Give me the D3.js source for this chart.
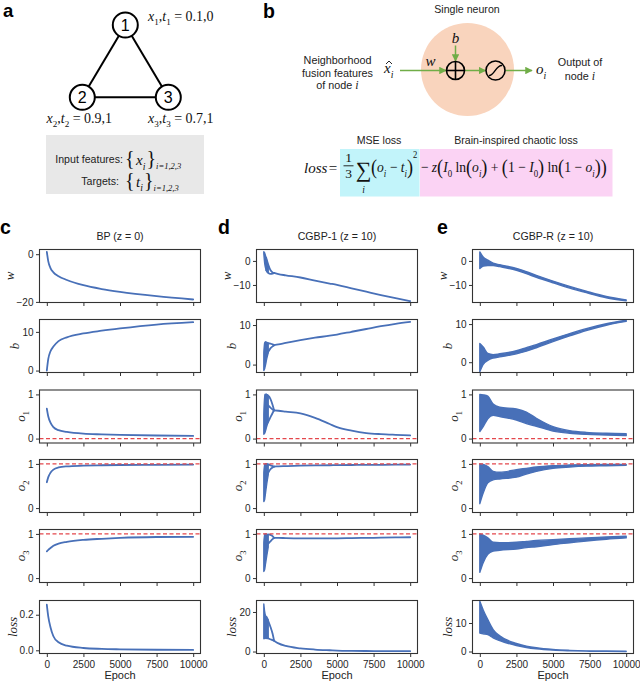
<!DOCTYPE html>
<html><head><meta charset="utf-8">
<script src="https://cdn.jsdelivr.net/npm/d3@7"></script>
<style>body{margin:0;background:#fff} svg{display:block} text{white-space:pre}</style>
</head><body>
<svg id="fig" width="640" height="683"></svg>
<script>
// ---------------- DATA ----------------
// panel a graph
const nodeLabels = ['1', '2', '3'];
const nodeFeatures = ['0.1', '0.9', '0.7'];
const nodeTargets = ['0', '1', '1'];
const graphEdges = [[0, 1], [0, 2], [1, 2]];

// x axis
const xTicks = [0, 2500, 5000, 7500, 10000];
const rowNames = ['w', 'b', 'o1', 'o2', 'o3', 'loss'];
const targetLines = [null, null, 0, 1, 1, null];

// c: BP (z = 0)
const epochBP = [0, 100, 250, 450, 800, 1370, 2500, 3750, 5000, 7500, 10000];
const bpW = [1.0, -3.0, -5.8, -7.6, -9.2, -10.8, -13.0, -14.6, -15.8, -17.6, -19.0];
const bpB = [0.0, 3.0, 5.0, 6.2, 7.6, 8.6, 9.6, 10.3, 10.9, 11.9, 12.5];
const bpO1 = [0.68, 0.50, 0.36, 0.26, 0.19, 0.15, 0.11, 0.095, 0.085, 0.07, 0.06];
const bpO2 = [0.585, 0.70, 0.80, 0.87, 0.92, 0.945, 0.96, 0.97, 0.975, 0.98, 0.985];
const bpO3 = [0.605, 0.64, 0.68, 0.73, 0.78, 0.82, 0.865, 0.89, 0.91, 0.93, 0.935];
const bpLoss = [0.256, 0.19, 0.13, 0.079, 0.045, 0.026, 0.013, 0.008, 0.0056, 0.003, 0.002];
const yDomC = [[-20.25, 1.97], [-0.5, 13.2], [-0.1, 1.1], [-0.1, 1.1], [-0.1, 1.1], [-0.018, 0.28]];
const yTicksC = [[-20, 0], [0, 10], [0, 1], [0, 1], [0, 1], [0, 0.2]];

// d: CGBP-1 (z = 10) main trajectory after the chaotic phase
const epochD1 = [700, 1000, 1500, 2500, 3500, 4500, 5000, 6000, 7000, 8000, 9000, 10000];
const d1W = [-5.0, -5.5, -6.0, -6.9, -8.2, -9.4, -10.0, -11.4, -12.8, -14.2, -15.5, -16.7];
const d1B = [4.9, 5.1, 5.5, 6.2, 6.8, 7.3, 7.6, 8.3, 9.0, 9.7, 10.3, 10.8];
const d1O1 = [0.64, 0.63, 0.61, 0.57, 0.47, 0.33, 0.26, 0.18, 0.125, 0.10, 0.085, 0.073];
const d1O2 = [0.94, 0.945, 0.95, 0.96, 0.965, 0.97, 0.972, 0.975, 0.978, 0.98, 0.983, 0.985];
const d1O3 = [0.91, 0.91, 0.905, 0.9, 0.9, 0.9, 0.9, 0.905, 0.91, 0.915, 0.92, 0.925];
const d1Loss = [5.5, 4.1, 2.8, 1.6, 1.0, 0.65, 0.5, 0.35, 0.27, 0.22, 0.19, 0.17];
// d chaotic phase envelope
const epochD1Chaos = [0, 60, 120, 200, 300];
const d1WLo = [3.0, -1.0, -3.0, -4.3, -5.0];
const d1WHi = [3.8, 3.3, 2.0, 0.0, -2.5];
const d1BLo = [-1.5, -1.0, 0.0, 1.5, 3.0];
const d1BHi = [3.0, 5.5, 5.8, 5.6, 5.4];
const d1O1Lo = [0.1, 0.12, 0.18, 0.28, 0.38];
const d1O1Hi = [0.55, 1.0, 1.0, 1.0, 0.97];
const d1O2Lo = [0.15, 0.2, 0.35, 0.55, 0.75];
const d1O2Hi = [0.8, 1.0, 1.0, 1.0, 0.99];
const d1O3Lo = [0.15, 0.2, 0.33, 0.5, 0.7];
const d1O3Hi = [0.8, 1.0, 1.0, 0.99, 0.97];
const d1LossLo = [6.5, 6.6, 6.8, 6.9, 6.8];
const d1LossHi = [24, 20, 18, 17.5, 16];
// d loop branches leaving the chaotic phase
const epochD1Loop = [150, 300, 450, 600, 700];
const d1WLoopA = [1.5, -1.5, -3.8, -4.8, -5.0];
const d1WLoopB = [-3.8, -5.0, -5.4, -5.3, -5.0];
const d1BLoopA = [5.3, 5.4, 5.3, 5.1, 4.9];
const d1BLoopB = [2.0, 3.2, 4.1, 4.6, 4.9];
const d1O1LoopA = [1.0, 0.97, 0.9, 0.76, 0.64];
const d1O1LoopB = [0.3, 0.38, 0.48, 0.58, 0.64];
const d1O1LoopC = [0.8, 0.75, 0.7, 0.66, 0.64];
const d1O2LoopA = [1.0, 0.99, 0.97, 0.95, 0.94];
const d1O2LoopB = [0.7, 0.8, 0.88, 0.92, 0.94];
const d1O3LoopA = [0.97, 0.99, 0.98, 0.95, 0.91];
const d1O3LoopB = [0.75, 0.78, 0.83, 0.88, 0.91];
const d1LossLoopA = [17, 15.5, 12.5, 9, 5.5];
const d1LossLoopB = [6.8, 6.6, 6.2, 5.8, 5.5];
const yDomD = [[-17.3, 4.75], [-2.0, 11.4], [-0.1, 1.1], [-0.1, 1.1], [-0.1, 1.1], [-1.0, 25.8]];
const yTicksD = [[-10, 0], [0, 10], [0, 1], [0, 1], [0, 1], [0, 20]];

// e: CGBP-R (z = 10) envelope of the noisy trajectory
const epochE = [0, 230, 545, 910, 1360, 2500, 3180, 3860, 5000, 6140, 7270, 8640, 10000];
const eWLo = [-3.2, -2.2, -1.9, -1.9, -2.4, -3.9, -5.3, -6.8, -9.1, -11.3, -13.2, -15.3, -16.6];
const eWHi = [3.75, 1.6, 0.3, -0.9, -1.6, -3.1, -4.5, -6.0, -8.4, -10.6, -12.6, -14.8, -16.2];
const eBLo = [-2.5, -0.6, 0.5, 1.1, 1.4, 2.2, 2.9, 3.8, 5.4, 6.9, 8.3, 9.7, 10.7];
const eBHi = [4.9, 4.0, 2.3, 2.0, 2.2, 3.0, 3.8, 4.6, 6.1, 7.5, 8.8, 10.1, 11.0];
const eO1Lo = [0.16, 0.27, 0.45, 0.53, 0.5, 0.42, 0.34, 0.28, 0.17, 0.12, 0.095, 0.08, 0.066];
const eO1Hi = [1.0, 0.99, 0.96, 0.78, 0.71, 0.67, 0.6, 0.46, 0.27, 0.18, 0.14, 0.12, 0.11];
const eO2Lo = [0.1, 0.34, 0.57, 0.64, 0.66, 0.70, 0.77, 0.83, 0.90, 0.93, 0.95, 0.96, 0.97];
const eO2Hi = [1.0, 0.99, 0.94, 0.83, 0.81, 0.87, 0.9, 0.93, 0.96, 0.975, 0.985, 0.99, 0.99];
const eO3Lo = [0.13, 0.35, 0.54, 0.61, 0.63, 0.66, 0.69, 0.71, 0.76, 0.8, 0.84, 0.88, 0.91];
const eO3Hi = [1.0, 0.97, 0.91, 0.81, 0.8, 0.81, 0.83, 0.85, 0.87, 0.89, 0.91, 0.93, 0.95];
const eLossLo = [6.5, 6.2, 5.9, 4.8, 3.8, 2.1, 1.4, 0.93, 0.47, 0.25, 0.12, 0.05, 0.0];
const eLossHi = [17.6, 14.6, 11.2, 7.7, 5.5, 2.8, 1.9, 1.3, 0.7, 0.4, 0.23, 0.16, 0.12];
const yDomE = [[-17.3, 4.75], [-2.7, 11.2], [-0.1, 1.1], [-0.1, 1.1], [-0.1, 1.1], [-0.7, 17.9]];
const yTicksE = [[-10, 0], [0, 10], [0, 1], [0, 1], [0, 1], [0, 10]];

// ---------------- DRAWING ----------------
const svg = d3.select('#fig');
const SANS = 'Liberation Sans, Arial, sans-serif';
const SERIF = 'Liberation Serif, Times New Roman, serif';
const BLUE = '#4870b8';
const GREEN = '#70ad47';
const INK = '#111';

function rich(parent, x, y, segs, base, family, anchor) {
  const t = parent.append('text').attr('x', x).attr('y', y)
    .attr('font-family', family).attr('font-size', base).attr('fill', INK);
  if (anchor) t.attr('text-anchor', anchor);
  let cur = 0;
  for (const s of segs) {
    const off = s.off !== undefined ? s.off : (s.sub ? base * 0.3 : s.sup ? -base * 0.45 : 0);
    const sp = t.append('tspan').attr('dy', off - cur).text(s.t);
    cur = off;
    if (s.i) sp.attr('font-style', 'italic');
    if (s.f) sp.attr('font-family', s.f);
    const sz = s.size || ((s.sub || s.sup) ? base * 0.65 : null);
    if (sz) sp.attr('font-size', sz);
    if (s.dx) sp.attr('dx', s.dx);
  }
  return t;
}
function letter(x, y, s, size) {
  svg.append('text').attr('x', x).attr('y', y).attr('font-family', SANS)
    .attr('font-weight', 'bold').attr('font-size', size || 19.5).attr('fill', '#000').text(s);
}

// ===== panel a =====
letter(3, 17, 'a', 18.5);
const nodePos = [[125.3, 25], [82.3, 97.3], [168.3, 97.3]];
const ga = svg.append('g');
graphEdges.forEach(([i, j]) => {
  ga.append('line').attr('x1', nodePos[i][0]).attr('y1', nodePos[i][1])
    .attr('x2', nodePos[j][0]).attr('y2', nodePos[j][1])
    .attr('stroke', '#000').attr('stroke-width', 2);
});
nodeLabels.forEach((n, i) => {
  ga.append('circle').attr('cx', nodePos[i][0]).attr('cy', nodePos[i][1]).attr('r', 12.5)
    .attr('fill', '#fff').attr('stroke', '#000').attr('stroke-width', 2);
  ga.append('text').attr('x', nodePos[i][0]).attr('y', nodePos[i][1] + 5.5)
    .attr('text-anchor', 'middle').attr('font-family', SANS).attr('font-size', 16).text(n);
});
const featLabelPos = [[148, 21], [46.5, 123], [148, 123]];
nodeLabels.forEach((n, i) => {
  rich(ga, featLabelPos[i][0], featLabelPos[i][1], [
    { t: 'x', i: 1 }, { t: n, sub: 1 }, { t: ',' }, { t: 't', i: 1 }, { t: n, sub: 1 },
    { t: ' = ' + nodeFeatures[i] + ',' + nodeTargets[i] }], 14, SERIF);
});
ga.append('rect').attr('x', 46).attr('y', 135).attr('width', 158).attr('height', 59).attr('fill', '#e8e8e8');
ga.append('text').attr('x', 123).attr('y', 163).attr('text-anchor', 'end')
  .attr('font-family', SANS).attr('font-size', 10.6).attr('fill', '#222').text('Input features:');
ga.append('text').attr('x', 119).attr('y', 184.5).attr('text-anchor', 'end')
  .attr('font-family', SANS).attr('font-size', 10.6).attr('fill', '#222').text('Targets:');
[['x', 165], ['t', 186.5]].forEach(([v, yy]) => {
  rich(ga, 125, yy, [
    { t: '{', size: 20 }, { t: v, i: 1, dx: 1.5 }, { t: 'i', sub: 1, i: 1 }, { t: '}', size: 20, off: 0, dx: 1 },
    { t: 'i=1,2,3', i: 1, size: 8.5, off: 4 }], 15, SERIF);
});

// ===== panel b =====
letter(263, 17.5, 'b');
const gb = svg.append('g');
const defs = svg.append('defs');
defs.append('marker').attr('id', 'ga').attr('viewBox', '0 0 10 10').attr('refX', 9).attr('refY', 5)
  .attr('markerWidth', 5).attr('markerHeight', 5).attr('orient', 'auto')
  .append('path').attr('d', 'M0,0 L10,5 L0,10 z').attr('fill', GREEN);
gb.append('text').attr('x', 467).attr('y', 13).attr('text-anchor', 'middle')
  .attr('font-family', SANS).attr('font-size', 10.6).attr('fill', '#222').text('Single neuron');
gb.append('circle').attr('cx', 467.5).attr('cy', 69.5).attr('r', 46.5).attr('fill', '#f9d4bd');
function arrow(x1, y1, x2, y2) {
  gb.append('line').attr('x1', x1).attr('y1', y1).attr('x2', x2).attr('y2', y2)
    .attr('stroke', GREEN).attr('stroke-width', 1.5).attr('marker-end', 'url(#ga)');
}
arrow(400, 70.5, 446, 70.5);
arrow(455.5, 45.5, 455.5, 61);
arrow(465, 70.5, 485.5, 70.5);
arrow(505.5, 70.5, 532, 70.5);
gb.append('circle').attr('cx', 455.5).attr('cy', 70.5).attr('r', 9).attr('fill', 'none').attr('stroke', '#000').attr('stroke-width', 1.6);
gb.append('line').attr('x1', 446.5).attr('x2', 464.5).attr('y1', 70.5).attr('y2', 70.5).attr('stroke', '#000').attr('stroke-width', 1.6);
gb.append('line').attr('x1', 455.5).attr('x2', 455.5).attr('y1', 61.5).attr('y2', 79.5).attr('stroke', '#000').attr('stroke-width', 1.6);
gb.append('circle').attr('cx', 495.5).attr('cy', 70.5).attr('r', 9.5).attr('fill', 'none').attr('stroke', '#000').attr('stroke-width', 1.6);
gb.append('path').attr('d', 'M489,75.5 C494,76 496,65 502,65.5').attr('fill', 'none').attr('stroke', '#000').attr('stroke-width', 1.4);
gb.append('text').attr('x', 430.5).attr('y', 66).attr('text-anchor', 'middle').attr('font-family', SERIF)
  .attr('font-style', 'italic').attr('font-size', 15).attr('fill', INK).text('w');
gb.append('text').attr('x', 455.5).attr('y', 43).attr('text-anchor', 'middle').attr('font-family', SERIF)
  .attr('font-style', 'italic').attr('font-size', 15).attr('fill', INK).text('b');
rich(gb, 384, 73, [{ t: 'x', i: 1 }, { t: 'i', sub: 1, i: 1 }], 15, SERIF);
gb.append('path').attr('d', 'M386,64 L389,61 L392,64').attr('fill', 'none').attr('stroke', INK).attr('stroke-width', 0.9);
rich(gb, 536, 74, [{ t: 'o', i: 1 }, { t: 'i', sub: 1, i: 1 }], 15, SERIF);
[['Neighborhood', 64], ['fusion features', 76.5]].forEach(([s, yy]) => {
  gb.append('text').attr('x', 337.5).attr('y', yy).attr('text-anchor', 'middle')
    .attr('font-family', SANS).attr('font-size', 10.8).attr('fill', '#222').text(s);
});
rich(gb, 337.5, 89, [{ t: 'of node ' }, { t: 'i', i: 1, f: SERIF, size: 12 }], 10.8, SANS, 'middle').attr('fill', '#222');
gb.append('text').attr('x', 580).attr('y', 66).attr('text-anchor', 'middle')
  .attr('font-family', SANS).attr('font-size', 10.8).attr('fill', '#222').text('Output of');
rich(gb, 580, 79.5, [{ t: 'node ' }, { t: 'i', i: 1, f: SERIF, size: 12 }], 10.8, SANS, 'middle').attr('fill', '#222');
gb.append('text').attr('x', 379).attr('y', 144).attr('text-anchor', 'middle')
  .attr('font-family', SANS).attr('font-size', 10.6).attr('fill', '#222').text('MSE loss');
gb.append('text').attr('x', 516).attr('y', 144).attr('text-anchor', 'middle')
  .attr('font-family', SANS).attr('font-size', 10.6).attr('fill', '#222').text('Brain-inspired chaotic loss');
gb.append('rect').attr('x', 340).attr('y', 149).attr('width', 79.5).attr('height', 47.5).attr('fill', '#c2f4fa');
gb.append('rect').attr('x', 420).attr('y', 149).attr('width', 192.5).attr('height', 47.5).attr('fill', '#fbd3f4');
// formula
rich(gb, 304, 172.5, [{ t: 'loss', i: 1 }, { t: '=', dx: 1.5 }], 15, SERIF);
gb.append('text').attr('x', 348.5).attr('y', 161.5).attr('text-anchor', 'middle').attr('font-family', SERIF).attr('font-size', 13.5).attr('fill', INK).text('1');
gb.append('line').attr('x1', 343.5).attr('x2', 353.5).attr('y1', 165.8).attr('y2', 165.8).attr('stroke', INK).attr('stroke-width', 0.9);
gb.append('text').attr('x', 348.5).attr('y', 177.5).attr('text-anchor', 'middle').attr('font-family', SERIF).attr('font-size', 13.5).attr('fill', INK).text('3');
gb.append('text').attr('x', 363.5).attr('y', 176.5).attr('text-anchor', 'middle').attr('font-family', SERIF).attr('font-size', 22).attr('fill', INK).text('∑');
gb.append('text').attr('x', 363.5).attr('y', 193).attr('text-anchor', 'middle').attr('font-family', SERIF).attr('font-style', 'italic').attr('font-size', 9.5).attr('fill', INK).text('i');
const P = 20;
const fr = rich(gb, 0, 172.5, [
  { t: '(', size: P, off: 1.5 }, { t: 'o', i: 1, off: 0 }, { t: 'i', i: 1, sub: 1 }, { t: ' − ', off: 0 }, { t: 't', i: 1 }, { t: 'i', i: 1, sub: 1 },
  { t: ')', size: P, off: 1.5 }, { t: '2', size: 9.5, off: -14 }, { t: ' − ', off: 0 }, { t: 'z', i: 1 },
  { t: '(', size: P, off: 1.5 }, { t: 'I', i: 1, off: 0 }, { t: '0', sub: 1 }, { t: ' ln', off: 0 },
  { t: '(', size: P, off: 1.5 }, { t: 'o', i: 1, off: 0 }, { t: 'i', i: 1, sub: 1 }, { t: ')', size: P, off: 1.5 },
  { t: ' + ', off: 0 }, { t: '(', size: P, off: 1.5 }, { t: '1 − ', off: 0 }, { t: 'I', i: 1 }, { t: '0', sub: 1 },
  { t: ')', size: P, off: 1.5 }, { t: ' ln', off: 0 }, { t: '(', size: P, off: 1.5 }, { t: '1 − ', off: 0 },
  { t: 'o', i: 1 }, { t: 'i', i: 1, sub: 1 }, { t: ')', size: P, off: 1.5 }, { t: ')', size: P, off: 1.5 }], 15, SERIF);
{
  const bb = fr.node().getBBox();
  const k = (607 - 371) / bb.width;
  fr.attr('transform', `translate(${371 - bb.x * k},0) scale(${k},1)`);
}

// ===== panels c, d, e =====
const plotW = 161, plotH = 53;
const rowTop = [249.5, 319.5, 390, 459.5, 529.5, 600.5];
const xDomain = [-500, 10500];

function lineS(ep, v) { return { ep, v }; }
function bandS(ep, lo, hi) { return { ep, lo, hi }; }
const cols = [
  { left: 39.5, letter: 'c', lx: 0, title: 'BP (z = 0)', dom: yDomC, ticks: yTicksC, fmt: [null, null, null, null, null, '.1f'],
    series: [
      { line: lineS(epochBP, bpW) }, { line: lineS(epochBP, bpB) }, { line: lineS(epochBP, bpO1) },
      { line: lineS(epochBP, bpO2) }, { line: lineS(epochBP, bpO3) }, { line: lineS(epochBP, bpLoss) }] },
  { left: 256.5, letter: 'd', lx: 218, title: 'CGBP-1 (z = 10)', dom: yDomD, ticks: yTicksD, fmt: [],
    series: [
      { band: bandS(epochD1Chaos, d1WLo, d1WHi), arcs: [lineS(epochD1Loop, d1WLoopA), lineS(epochD1Loop, d1WLoopB)], line: lineS(epochD1, d1W) },
      { band: bandS(epochD1Chaos, d1BLo, d1BHi), arcs: [lineS(epochD1Loop, d1BLoopA), lineS(epochD1Loop, d1BLoopB)], line: lineS(epochD1, d1B) },
      { band: bandS(epochD1Chaos, d1O1Lo, d1O1Hi), arcs: [lineS(epochD1Loop, d1O1LoopA), lineS(epochD1Loop, d1O1LoopB), lineS(epochD1Loop, d1O1LoopC)], line: lineS(epochD1, d1O1) },
      { band: bandS(epochD1Chaos, d1O2Lo, d1O2Hi), arcs: [lineS(epochD1Loop, d1O2LoopA), lineS(epochD1Loop, d1O2LoopB)], line: lineS(epochD1, d1O2) },
      { band: bandS(epochD1Chaos, d1O3Lo, d1O3Hi), arcs: [lineS(epochD1Loop, d1O3LoopA), lineS(epochD1Loop, d1O3LoopB)], line: lineS(epochD1, d1O3) },
      { band: bandS(epochD1Chaos, d1LossLo, d1LossHi), arcs: [lineS(epochD1Loop, d1LossLoopA), lineS(epochD1Loop, d1LossLoopB)], line: lineS(epochD1, d1Loss) }] },
  { left: 472.5, letter: 'e', lx: 437, title: 'CGBP-R (z = 10)', dom: yDomE, ticks: yTicksE, fmt: [],
    series: [
      { band: bandS(epochE, eWLo, eWHi) }, { band: bandS(epochE, eBLo, eBHi) }, { band: bandS(epochE, eO1Lo, eO1Hi) },
      { band: bandS(epochE, eO2Lo, eO2Hi) }, { band: bandS(epochE, eO3Lo, eO3Hi) }, { band: bandS(epochE, eLossLo, eLossHi) }] }
];
const ylabelSegs = {
  w: [{ t: 'w', i: 1 }], b: [{ t: 'b', i: 1 }],
  o1: [{ t: 'o', i: 1 }, { t: '1', sub: 1 }], o2: [{ t: 'o', i: 1 }, { t: '2', sub: 1 }], o3: [{ t: 'o', i: 1 }, { t: '3', sub: 1 }],
  loss: [{ t: 'loss', i: 1 }]
};

cols.forEach((c, ci) => {
  letter(c.lx, 233.5, c.letter);
  svg.append('text').attr('x', c.left + plotW / 2).attr('y', 240).attr('text-anchor', 'middle')
    .attr('font-family', SANS).attr('font-size', 10.6).attr('fill', '#222').text(c.title);
  rowTop.forEach((top, ri) => {
    const g = svg.append('g').attr('transform', `translate(${c.left},${top})`);
    const x = d3.scaleLinear().domain(xDomain).range([0, plotW]);
    const y = d3.scaleLinear().domain(c.dom[ri]).range([plotH, 0]);
    const cid = `clip${ci}_${ri}`;
    g.append('clipPath').attr('id', cid).append('rect').attr('width', plotW).attr('height', plotH);
    const dg = g.append('g').attr('clip-path', `url(#${cid})`);
    const s = c.series[ri];
    if (s.band) {
      const b = s.band;
      const idx = d3.range(b.ep.length);
      const area = d3.area().x(i => x(b.ep[i])).y0(i => y(b.lo[i])).y1(i => y(b.hi[i])).curve(d3.curveMonotoneX);
      dg.append('path').attr('d', area(idx)).attr('fill', BLUE).attr('stroke', BLUE).attr('stroke-width', 1.4).attr('stroke-linejoin', 'round');
    }
    const ln = (L) => {
      const idx = d3.range(L.ep.length);
      const gen = d3.line().x(i => x(L.ep[i])).y(i => y(L.v[i])).curve(d3.curveMonotoneX);
      dg.append('path').attr('d', gen(idx)).attr('fill', 'none').attr('stroke', BLUE)
        .attr('stroke-width', 1.8).attr('stroke-linecap', 'round').attr('stroke-linejoin', 'round');
    };
    if (s.arcs) s.arcs.forEach(ln);
    if (s.line) ln(s.line);
    if (targetLines[ri] !== null) {
      dg.append('line').attr('x1', 0).attr('x2', plotW).attr('y1', y(targetLines[ri])).attr('y2', y(targetLines[ri]))
        .attr('stroke', '#e4474c').attr('stroke-width', 1.2).attr('stroke-dasharray', '4,2.5');
    }
    // axes
    const fmtX = ri === 5 ? d3.format('d') : () => '';
    const xa = g.append('g').attr('transform', `translate(0,${plotH})`)
      .call(d3.axisBottom(x).tickValues(xTicks).tickSize(3.5).tickSizeOuter(0).tickPadding(3.5).tickFormat(fmtX));
    const fy = c.fmt[ri] ? d3.format(c.fmt[ri]) : d3.format('d');
    const ya = g.append('g').call(d3.axisLeft(y).tickValues(c.ticks[ri]).tickSize(3.5).tickSizeOuter(0).tickPadding(2.5).tickFormat(fy));
    [xa, ya].forEach(a => {
      a.select('.domain').remove();
      a.selectAll('line').attr('stroke', '#333').attr('stroke-width', 1);
      a.selectAll('text').attr('fill', '#262626').attr('font-size', 10).attr('font-family', SANS);
    });
    g.append('rect').attr('width', plotW).attr('height', plotH).attr('fill', 'none')
      .attr('stroke', '#333').attr('stroke-width', 1.1);
    // y label
    const bb = ya.node().getBBox();
    const lab = rich(g, 0, 0, ylabelSegs[rowNames[ri]], 13, SERIF, 'middle');
    lab.attr('transform', `translate(${bb.x - 3},${plotH / 2}) rotate(-90)`).attr('fill', '#222');
    if (ri === 5) {
      g.append('text').attr('x', plotW / 2).attr('y', plotH + 25.5).attr('text-anchor', 'middle')
        .attr('font-family', SANS).attr('font-size', 11).attr('fill', '#222').text('Epoch');
    }
  });
});
</script></body></html>
